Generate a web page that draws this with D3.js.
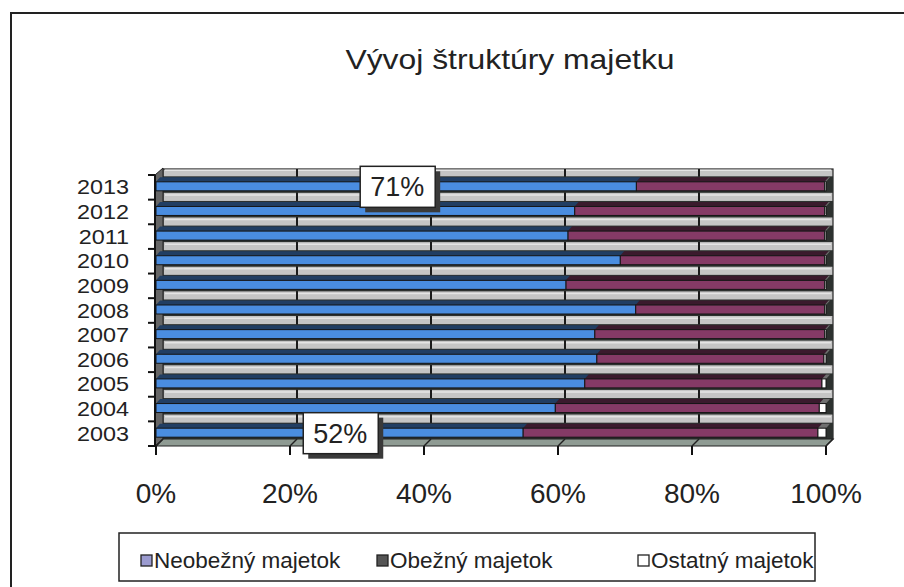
<!DOCTYPE html>
<html><head><meta charset="utf-8">
<script src="https://cdn.jsdelivr.net/npm/d3@7"></script>
<style>body{margin:0;background:#fff}svg{display:block}</style>
</head><body>
<svg id="c" width="904" height="587"></svg>
<script>
// ---- data ----
const title = "Vývoj štruktúry majetku";
const years = ["2003","2004","2005","2006","2007","2008","2009","2010","2011","2012","2013"];
const neobezny = [54.8, 59.6, 64.0, 65.8, 65.5, 71.6, 61.2, 69.3, 61.5, 62.5, 71.7];
const obezny   = [44.0, 39.4, 35.4, 33.9, 34.3, 28.2, 38.6, 30.5, 38.3, 37.3, 28.1];
const ostatny  = [1.2, 1.0, 0.6, 0.3, 0.2, 0.2, 0.2, 0.2, 0.2, 0.2, 0.2];
const seriesKeys = ["neo","obe","ost"];
const seriesNames = ["Neobežný majetok","Obežný majetok","Ostatný majetok"];
const xTicks = [0, 20, 40, 60, 80, 100];
const xTickLabels = ["0%","20%","40%","60%","80%","100%"];
const callouts = [{year:"2013", text:"71%", at:36}, {year:"2003", text:"52%", at:27.5}];

// ---- styles ----
const barColors = {neo:"#4a8de0", obe:"#853a66", ost:"#ffffff"};
const legendColors = ["#9b9bd0", "#555555", "#ffffff"];
const ink = "#222";
const font = "'Liberation Sans', Arial, sans-serif";
const dx = 7, dy = 7;

const svg = d3.select("#c");

// outer frame
svg.append("path").attr("d","M11,600 V13 H920").attr("fill","none")
  .attr("stroke",ink).attr("stroke-width",2);

// title
svg.append("g").attr("transform","translate(510,69) scale(1.18,1)")
  .append("text").attr("text-anchor","middle").attr("font-family",font)
  .attr("font-size",27).attr("fill",ink).text(title);

// scales
const x = d3.scaleLinear().domain([0,100]).range([156,826]);
const y = d3.scaleBand().domain(years.slice().reverse()).range([175,446]).paddingInner(0);
const cy = yr => y(yr) + y.bandwidth()/2 - 1;

const table = years.map((yr,i)=>({year:yr, neo:neobezny[i], obe:obezny[i], ost:ostatny[i]}));
const stacked = d3.stack().keys(seriesKeys).offset(d3.stackOffsetExpand)(table);

const [y0, y1] = y.range();
const plot = svg.append("g");

// back wall
plot.append("rect").attr("x",x(0)+dx).attr("y",y0-dy+1).attr("width",x(100)-x(0))
  .attr("height",(y1-dy)-(y0-dy+1)).attr("fill","#c5c5c5").attr("stroke",ink).attr("stroke-width",1.2);
// gray strip highlights
plot.selectAll("line.hl").data(years).join("line").attr("class","hl")
  .attr("x1",x(0)+dx+2).attr("x2",x(100)+dx-2)
  .attr("y1",d=>cy(d)-16).attr("y2",d=>cy(d)-16)
  .attr("stroke","#e4e4e4").attr("stroke-width",1.5);
// back wall gridlines
plot.selectAll("line.grid").data(xTicks.slice(1,-1)).join("line").attr("class","grid")
  .attr("x1",d=>x(d)+dx).attr("x2",d=>x(d)+dx).attr("y1",y0-dy+1).attr("y2",y1-dy)
  .attr("stroke","#1a1a1a").attr("stroke-width",2);
// dark band (top faces / shadows) behind each bar
plot.selectAll("rect.band").data(years).join("rect").attr("class","band")
  .attr("x",x(0)).attr("y",d=>cy(d)-10).attr("width",x(100)-x(0)+dx)
  .attr("height",16.5).attr("fill","#2d312f");

// left wall
plot.append("path").attr("d",`M${x(0)-1},${y0} L${x(0)+dx},${y0-dy} L${x(0)+dx},${y1-dy} L${x(0)-1},${y1} Z`)
  .attr("fill","#666").attr("stroke",ink).attr("stroke-width",1);

// floor
plot.append("path").attr("d",`M${x(0)},${y1} L${x(0)+dx},${y1-dy} L${x(100)+dx},${y1-dy} L${x(100)},${y1} Z`)
  .attr("fill","#8f9b93").attr("stroke",ink).attr("stroke-width",1.2);
plot.selectAll("line.fg").data(xTicks).join("line").attr("class","fg")
  .attr("x1",d=>x(d)).attr("x2",d=>x(d)+dx).attr("y1",y1).attr("y2",y1-dy)
  .attr("stroke",ink).attr("stroke-width",1.5);

// bars
const series = plot.selectAll("g.s").data(stacked).join("g").attr("class","s");
series.selectAll("path.top").data(s=>s.map(d=>({d, key:s.key}))).join("path").attr("class","top")
  .attr("d",o=>{const a=x(o.d[0]*100), b=x(o.d[1]*100), c=cy(o.d.data.year)-4.5;
     return `M${a},${c} L${a+4},${c-4.5} L${b+4},${c-4.5} L${b},${c} Z`;})
  .attr("fill",o=>d3.color(barColors[o.key]).darker(2.3));
series.selectAll("rect").data(s=>s.map(d=>({d, key:s.key}))).join("rect")
  .attr("x",o=>x(o.d[0]*100)).attr("width",o=>x(o.d[1]*100)-x(o.d[0]*100))
  .attr("y",o=>cy(o.d.data.year)-4.5).attr("height",9)
  .attr("fill",o=>barColors[o.key]).attr("stroke","#151515").attr("stroke-width",1);

// y axis
plot.append("line").attr("x1",x(0)-1).attr("x2",x(0)-1).attr("y1",y0).attr("y2",y1)
  .attr("stroke","#111").attr("stroke-width",2);
const bounds = years.map(yr=>y(yr)).concat([y1]);
plot.selectAll("line.yt").data(bounds).join("line").attr("class","yt")
  .attr("x1",x(0)-8).attr("x2",x(0)-1).attr("y1",d=>d).attr("y2",d=>d)
  .attr("stroke","#111").attr("stroke-width",2);
plot.selectAll("g.yl").data(years).join("g").attr("class","yl")
  .attr("transform",d=>`translate(129,${cy(d)+8}) scale(1.17,1)`)
  .append("text").attr("text-anchor","end").attr("font-family",font)
  .attr("font-size",20).attr("fill",ink).text(d=>d);

// x axis
plot.selectAll("line.xt").data(xTicks).join("line").attr("class","xt")
  .attr("x1",d=>x(d)).attr("x2",d=>x(d)).attr("y1",y1).attr("y2",y1+9)
  .attr("stroke","#111").attr("stroke-width",2);
plot.selectAll("text.xl").data(xTicks).join("text").attr("class","xl")
  .attr("x",d=>x(d)).attr("y",503).attr("text-anchor","middle").attr("font-family",font)
  .attr("font-size",28).attr("fill",ink).text((d,i)=>xTickLabels[i]);

// callouts
const cg = svg.selectAll("g.co").data(callouts).join("g").attr("class","co")
  .attr("transform",d=>`translate(${x(d.at)},${cy(d.year)})`);
cg.append("rect").attr("x",-37+5).attr("y",-20+5).attr("width",75).attr("height",41).attr("fill","#3a3a3a");
cg.append("rect").attr("x",-37).attr("y",-20).attr("width",75).attr("height",41)
  .attr("fill","#fff").attr("stroke",ink).attr("stroke-width",1.5);
cg.append("text").attr("text-anchor","middle").attr("y",10).attr("font-family",font)
  .attr("font-size",27).attr("fill",ink).text(d=>d.text);

// legend
const lg = svg.append("g");
lg.append("rect").attr("x",119).attr("y",533).attr("width",696).attr("height",48)
  .attr("fill","#fff").attr("stroke",ink).attr("stroke-width",1.5);
const legendX = [141, 377, 638];
const li = lg.selectAll("g.li").data(seriesNames).join("g").attr("class","li")
  .attr("transform",(d,i)=>`translate(${legendX[i]},0)`);
li.append("rect").attr("x",0).attr("y",555).attr("width",11).attr("height",11)
  .attr("fill",(d,i)=>legendColors[i]).attr("stroke",ink).attr("stroke-width",1.3);
li.append("text").attr("x",13).attr("y",568).attr("font-family",font)
  .attr("font-size",22.5).attr("fill",ink).text(d=>d);
</script>
</body></html>
